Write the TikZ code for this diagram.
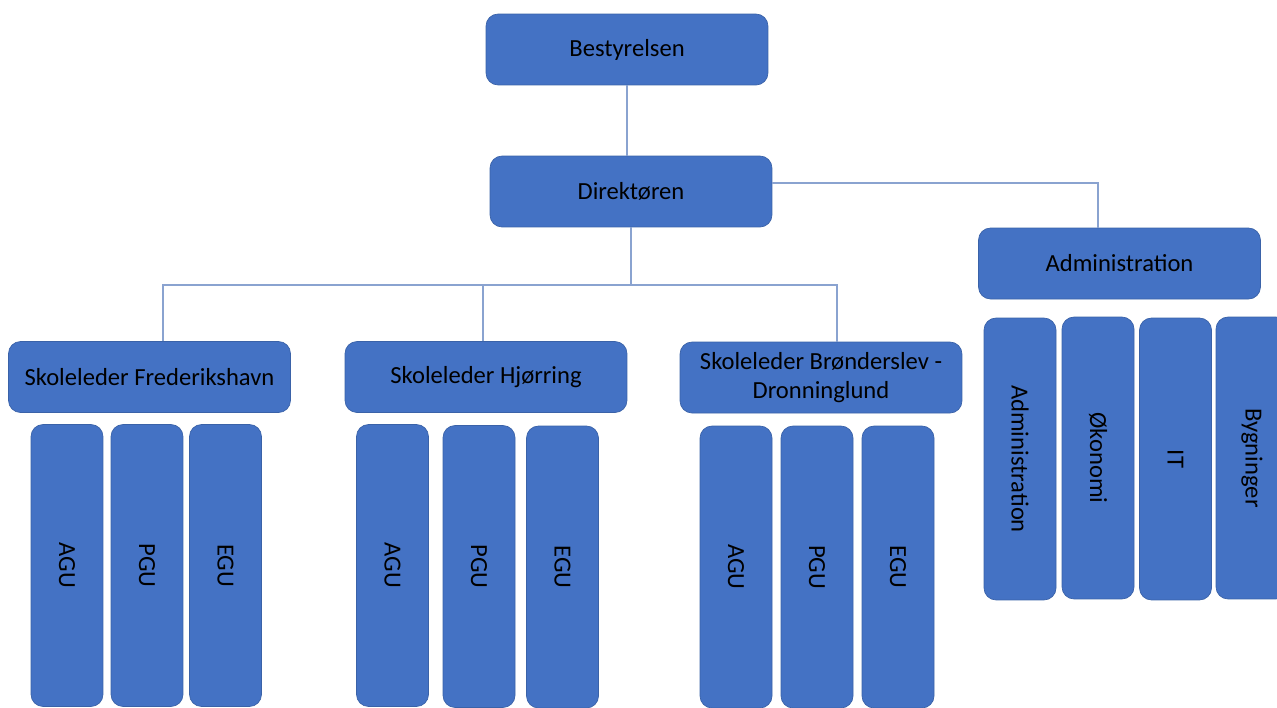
\documentclass[tikz,border=0pt]{standalone}
\usepackage{fontspec}
\setmainfont{Carlito}
\definecolor{boxblue}{HTML}{4472C4}
\definecolor{edgeblue}{HTML}{3A62A8}
\definecolor{lineblue}{HTML}{8AA3D0}
\tikzset{
	unit/.style={draw=edgeblue, line width=.4pt, fill=boxblue, rounded corners=.24cm, text=black, font=\fontsize{14}{16.8}\selectfont, align=center, inner sep=0pt},
	head/.style={unit, minimum width=5.64cm, minimum height=1.42cm},
	sub/.style={unit, rotate=-90, minimum width=5.64cm, minimum height=1.44cm},
	link/.style={draw=lineblue, line width=.6pt}
}
\begin{document}
\begin{tikzpicture}[x=.02cm, y=-.02cm]
		\useasboundingbox(0, 0)rectangle(1277, 707);
		\node[head](best)at(627, 49.5){Bestyrelsen};
		\node[head](dir)at(631, 191.5){Direktøren};
		\node[head](adm)at(1119.5, 263.5){Administration};
		\node[head](fred)at(149.5, 377){Skoleleder Frederikshavn};
		\node[head](hjo)at(486, 377){Skoleleder Hjørring};
		\node[head](bron)at(821, 377.5){Skoleleder Brønderslev -\\Dronninglund};
		\node[sub](fredA)at(67, 565.5){AGU};
		\node[sub](fredP)at(147, 565.5){PGU};
		\node[sub](fredE)at(225.5, 565.5){EGU};
		\node[sub](hjoA)at(392.5, 565.5){AGU};
		\node[sub](hjoP)at(479, 566.5){PGU};
		\node[sub](hjoE)at(562.5, 567){EGU};
		\node[sub](bronA)at(736, 567){AGU};
		\node[sub](bronP)at(817, 567){PGU};
		\node[sub](bronE)at(898, 567){EGU};
		\node[sub](admA)at(1020, 459){Administration};
		\node[sub](admO)at(1098, 458){Økonomi};
		\node[sub](admI)at(1175.5, 459){IT};
		\node[sub](admB)at(1252, 458){Bygninger};
		\coordinate(bus)at(631, 285);
		\draw[link](best.south)--(best.south |- dir.north);
		\draw[link](dir.south)--(bus);
		\draw[link]([xshift=.27cm]fred.north)|-(bus)-|([xshift=.32cm]bron.north);
		\draw[link]([xshift=-.06cm]hjo.north)--([xshift=-.06cm]hjo.north |- bus);
		\draw[link]([yshift=.17cm]dir.east)-|([xshift=-.43cm]adm.north);
	\end{tikzpicture}
\end{document}
